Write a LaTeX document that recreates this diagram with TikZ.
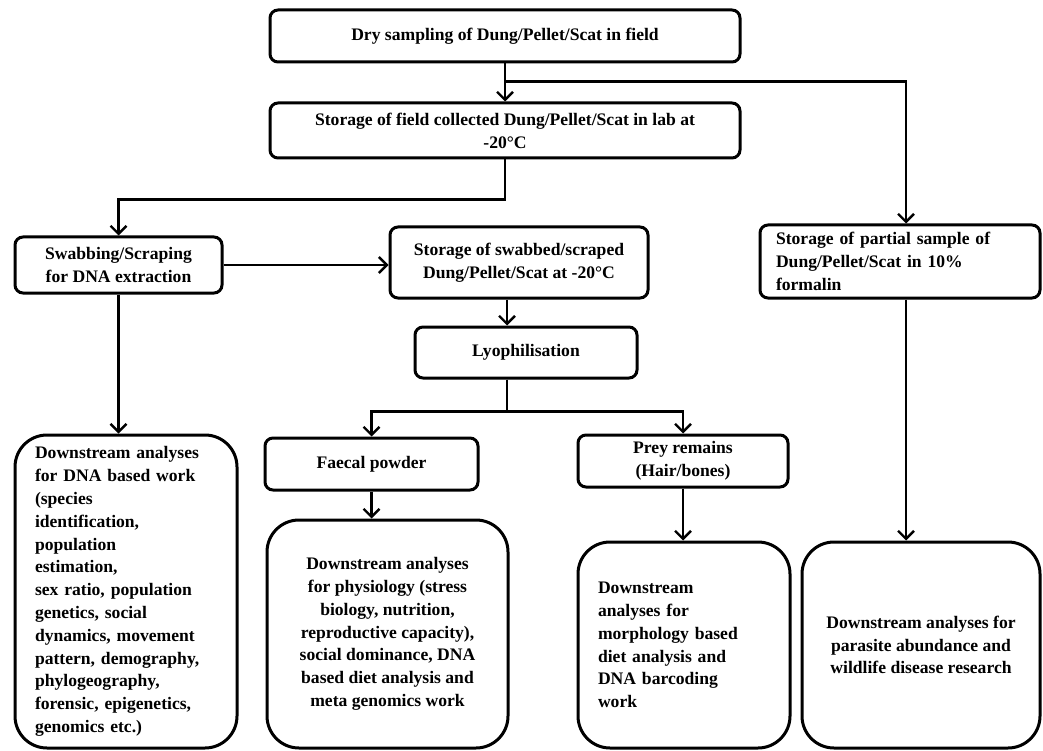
\documentclass[tikz,border=0pt]{standalone}
\usepackage{fontspec}
\setmainfont{Liberation Serif}
\usetikzlibrary{arrows.meta}
\begin{document}
\begin{tikzpicture}[x=1pt,y=-1pt,
    box/.style={draw,line width=3pt,rounded corners=8pt,align=center,inner sep=0pt,
      font=\fontsize{17.6}{22.8}\selectfont\bfseries},
    bigbox/.style={box,rounded corners=32pt},
    flow/.style={line width=2.4pt,-{Straight Barb[length=8pt,width=16pt]}}]
  \useasboundingbox (0,0) rectangle (1043,751);
  \node[box,minimum width=470,minimum height=52] (dry) at (505,36)
    {Dry sampling of Dung/Pellet/Scat in field};
  \node[box,minimum width=470,minimum height=55] (labstore) at (505,130.5)
    {Storage of field collected Dung/Pellet/Scat in lab at\\-20°C};
  \node[box,minimum width=280,minimum height=73,text width=248,align=left] (formalin) at (900,261.5)
    {Storage of partial sample of\\Dung/Pellet/Scat in 10\%\\formalin};
  \node[box,minimum width=207,minimum height=56] (swab) at (118.5,265)
    {Swabbing/Scraping\\for DNA extraction};
  \node[box,minimum width=258,minimum height=71] (swabstore) at (519,262.5)
    {Storage of swabbed/scraped\\Dung/Pellet/Scat at -20°C};
  \node[box,minimum width=222,minimum height=51] (lyo) at (526,352.5)
    {Lyophilisation};
  \node[box,minimum width=213,minimum height=52] (faecal) at (371.5,464)
    {Faecal powder};
  \node[box,minimum width=210,minimum height=52] (prey) at (683,461)
    {Prey remains\\(Hair/bones)};
  \node[bigbox,minimum width=222,minimum height=313,text width=182,align=left] (dnawork) at (126,591.5)
    {Downstream analyses\\for DNA based work\\(species\\identification,\\population\\estimation,\\sex ratio, population\\genetics, social\\dynamics, movement\\pattern, demography,\\phylogeography,\\forensic, epigenetics,\\genomics etc.)};
  \node[bigbox,minimum width=241,minimum height=228] (physio) at (387.5,634)
    {Downstream analyses\\for physiology (stress\\biology, nutrition,\\reproductive capacity),\\social dominance, DNA\\based diet analysis and\\meta genomics work};
  \node[bigbox,minimum width=212,minimum height=206,text width=172,align=left] (morpho) at (684,645)
    {Downstream\\analyses for\\morphology based\\diet analysis and\\DNA barcoding\\work};
  \node[bigbox,minimum width=238,minimum height=206] (parasite) at (921,645)
    {Downstream analyses for\\parasite abundance and\\wildlife disease research};
  \begin{scope}[flow]
    \draw (dry) to (labstore);
    \draw ([yshift=-18]dry.south) -| ([xshift=6]formalin.north);
    \draw (labstore.south) -- ++(0,40) -| (swab.north);
    \draw (swab.east) to (swab.east -| swabstore.west);
    \draw ([xshift=-12]swabstore.south) to ([xshift=-12]swabstore.south |- lyo.north);
    \draw ([xshift=-19]lyo.south) -- ++(0,32) -| (faecal.north);
    \draw ([xshift=-19]lyo.south) -- ++(0,32) -| (prey.north);
    \draw (swab.south) to (swab.south |- dnawork.north);
    \draw (faecal.south) to (faecal.south |- physio.north);
    \draw (prey.south) to (prey.south |- morpho.north);
    \draw ([xshift=6]formalin.south) to ([xshift=6]formalin.south |- parasite.north);
  \end{scope}
\end{tikzpicture}
\end{document}
